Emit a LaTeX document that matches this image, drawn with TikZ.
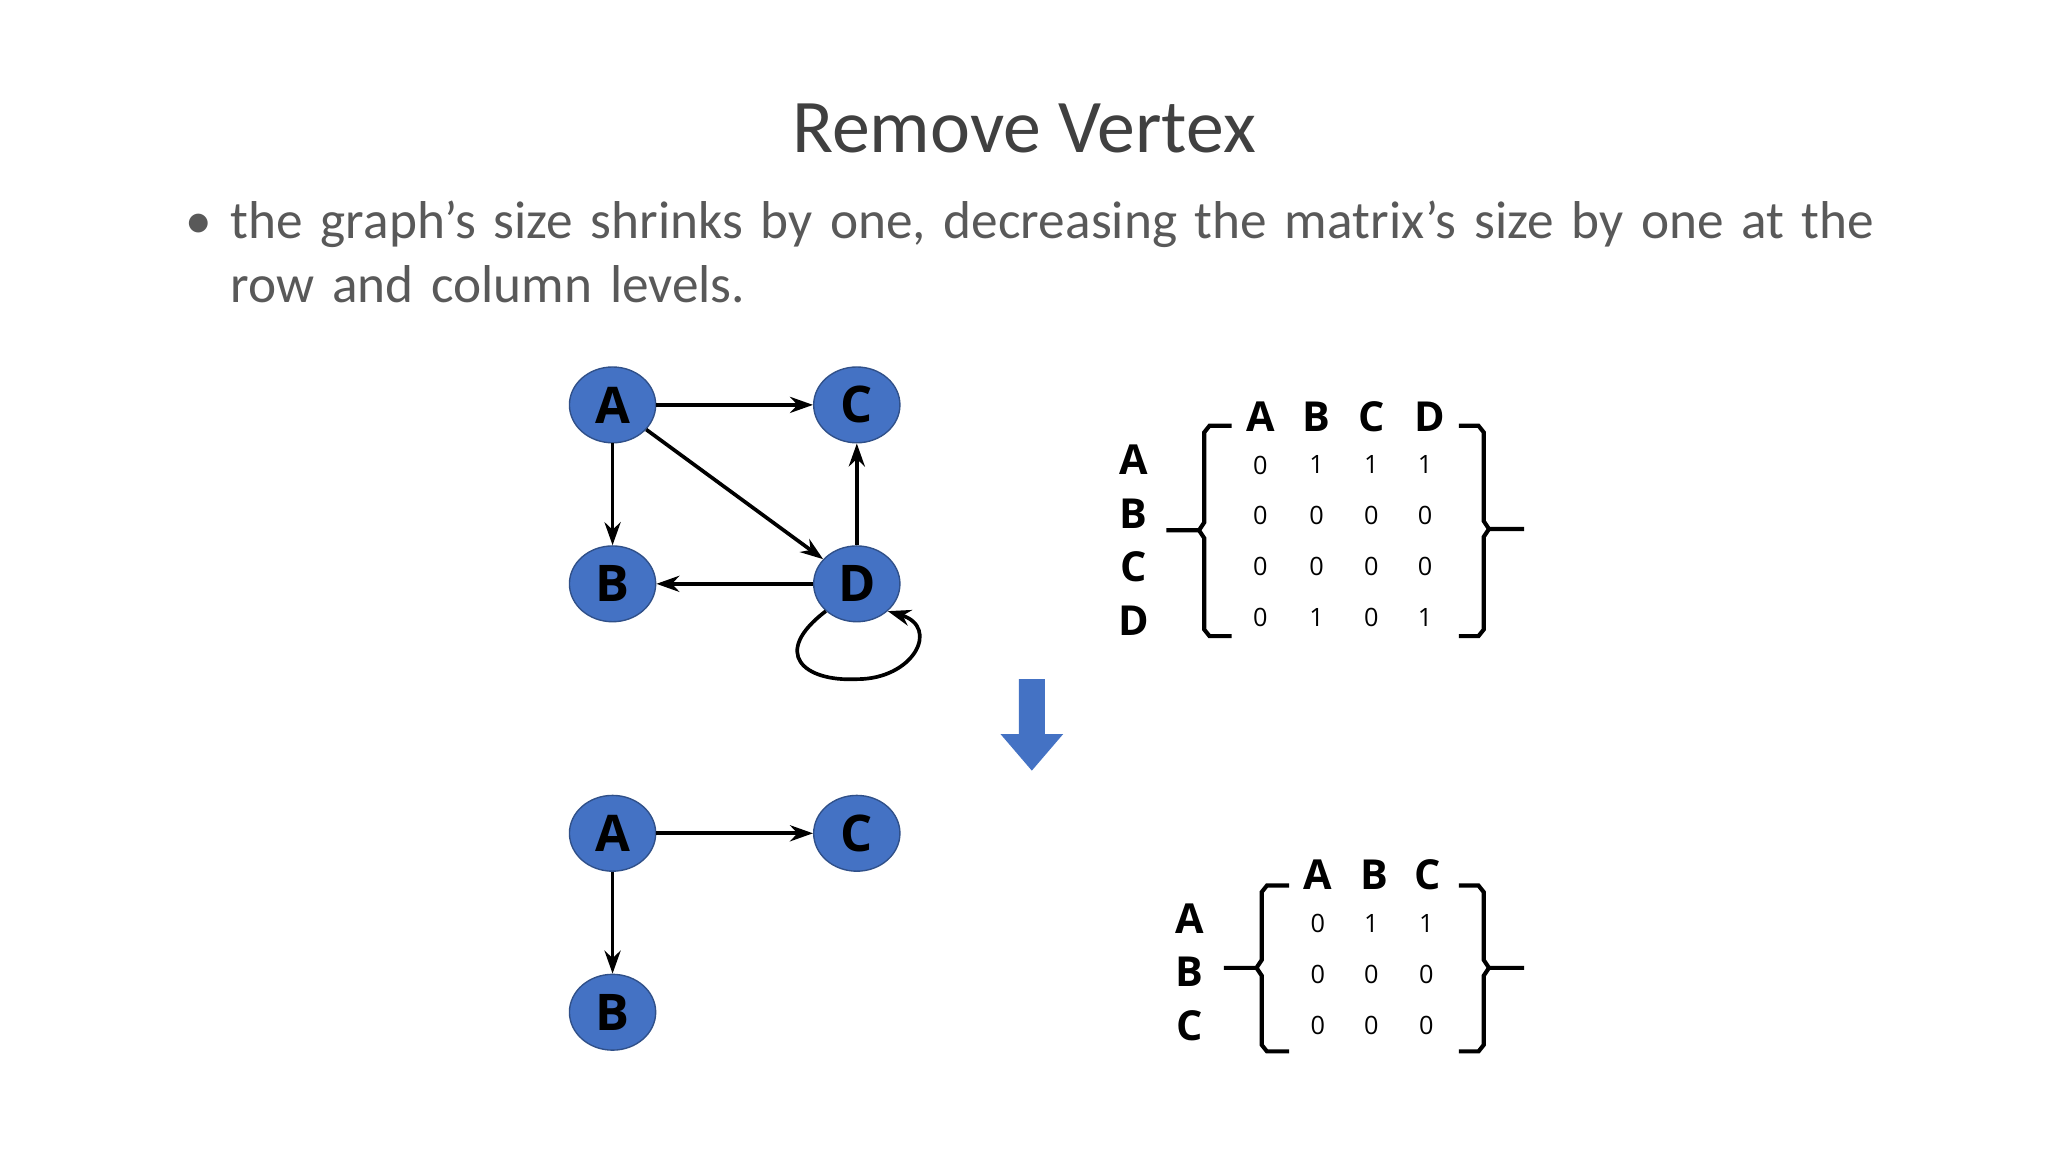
\documentclass[tikz,border=0pt]{standalone}
\usepackage{fontspec}
\setmainfont{Carlito}
\newfontfamily\nodefont{Open Sans}
\usetikzlibrary{arrows.meta,shapes.geometric}
\definecolor{nblue}{HTML}{4472C4}
\definecolor{titlec}{HTML}{404040}
\definecolor{bodyc}{HTML}{595959}
\tikzset{
  vtx/.style={ellipse,fill=nblue,draw=nblue!70!black,line width=0.3pt,minimum width=0.66cm,minimum height=0.58cm,inner sep=0pt,font=\nodefont\bfseries\fontsize{11}{12}\selectfont},
  edge/.style={-{Stealth[length=5pt,width=3.5pt]},line width=0.8pt},
  hdr/.style={font=\nodefont\bfseries\fontsize{9}{10}\selectfont,inner sep=0pt},
  ent/.style={font=\nodefont\fontsize{5.5}{6}\selectfont,inner sep=0pt},
  brk/.style={line width=0.9pt}
}
\begin{document}
\begin{tikzpicture}[x=0.01cm,y=-0.01cm]
\useasboundingbox (0,0) rectangle (1568,882);
\fill[white] (0,0) rectangle (1568,882);
\node[text=titlec,font=\fontsize{16.5}{18}\selectfont] (title) at (784,98) {Remove Vertex};
\node[text=bodyc,font=\fontsize{11.6}{14}\selectfont,anchor=north west,text width=13.2cm,align=left,inner sep=0pt] (body) at (176,153)
 {the graph's size shrinks by one, decreasing the matrix's size by one at the row and column levels.};
\node[text=bodyc,font=\fontsize{11.6}{14}\selectfont,inner sep=0pt] (bul) at (152,173) {•};
% graph 1
\node[vtx] (A) at (469,310) {A};
\node[vtx] (C) at (656,310) {C};
\node[vtx] (B) at (469,447) {B};
\node[vtx] (D) at (656,447) {D};
\draw[edge] (A) -- (C);
\draw[edge] (A) -- (B);
\draw[edge] (A) -- (D);
\draw[edge] (D) -- (C);
\draw[edge] (D) -- (B);
\draw[edge] (D.south west) ++(0,0) .. controls (590,500) and (615,522) .. (656,520) .. controls (700,520) and (720,480) .. (D.south east);
% arrow
\fill[nblue] (780,520) -- (800,520) -- (800,562) -- (814,562) -- (790,590) -- (766,562) -- (780,562) -- cycle;
\coordinate (arr) at (790,555);
% graph 2
\node[vtx] (A2) at (469,638) {A};
\node[vtx] (C2) at (656,638) {C};
\node[vtx] (B2) at (469,775) {B};
\draw[edge] (A2) -- (C2);
\draw[edge] (A2) -- (B2);
% matrix 1
\foreach \l/\x in {A/965,B/1008,C/1050,D/1095} \node[hdr] (h\l) at (\x,319) {\l};
\foreach \l/\y in {A/352,B/393,C/434,D/475} \node[hdr] (r\l) at (868,\y) {\l};
\foreach \r/\y/\a/\b/\c/\d in {1/356/0/1/1/1,2/395/0/0/0/0,3/434/0/0/0/0,4/473/0/1/0/1}{
  \node[ent] (e\r a) at (965,\y) {\a};
  \node[ent] (e\r b) at (1008,\y) {\b};
  \node[ent] (e\r c) at (1050,\y) {\c};
  \node[ent] (e\r d) at (1091,\y) {\d};
}
\draw[brk] (943,326) -- (926,326) -- (922,331) -- (922,400) -- (918,406) -- (893,406);
\draw[brk] (918,406) -- (922,412) -- (922,482) -- (926,487) -- (943,487);
\draw[brk] (1117,326) -- (1132,326) -- (1136,331) -- (1136,399) -- (1140,405) -- (1167,405);
\draw[brk] (1140,405) -- (1136,411) -- (1136,482) -- (1132,487) -- (1117,487);
% matrix 2
\foreach \l/\x in {A/1009,B/1052,C/1093} \node[hdr] (g\l) at (\x,670) {\l};
\foreach \l/\y in {A/703,B/744,C/785} \node[hdr] (s\l) at (911,\y) {\l};
\foreach \r/\y/\a/\b/\c in {1/707/0/1/1,2/746/0/0/0,3/785/0/0/0}{
  \node[ent] (f\r a) at (1009,\y) {\a};
  \node[ent] (f\r b) at (1050,\y) {\b};
  \node[ent] (f\r c) at (1092,\y) {\c};
}
\draw[brk] (987,678) -- (970,678) -- (966,683) -- (966,735) -- (962,741) -- (937,741);
\draw[brk] (962,741) -- (966,747) -- (966,800) -- (970,805) -- (987,805);
\draw[brk] (1117,678) -- (1132,678) -- (1136,683) -- (1136,735) -- (1140,741) -- (1167,741);
\draw[brk] (1140,741) -- (1136,747) -- (1136,800) -- (1132,805) -- (1117,805);
\end{tikzpicture}
\end{document}
